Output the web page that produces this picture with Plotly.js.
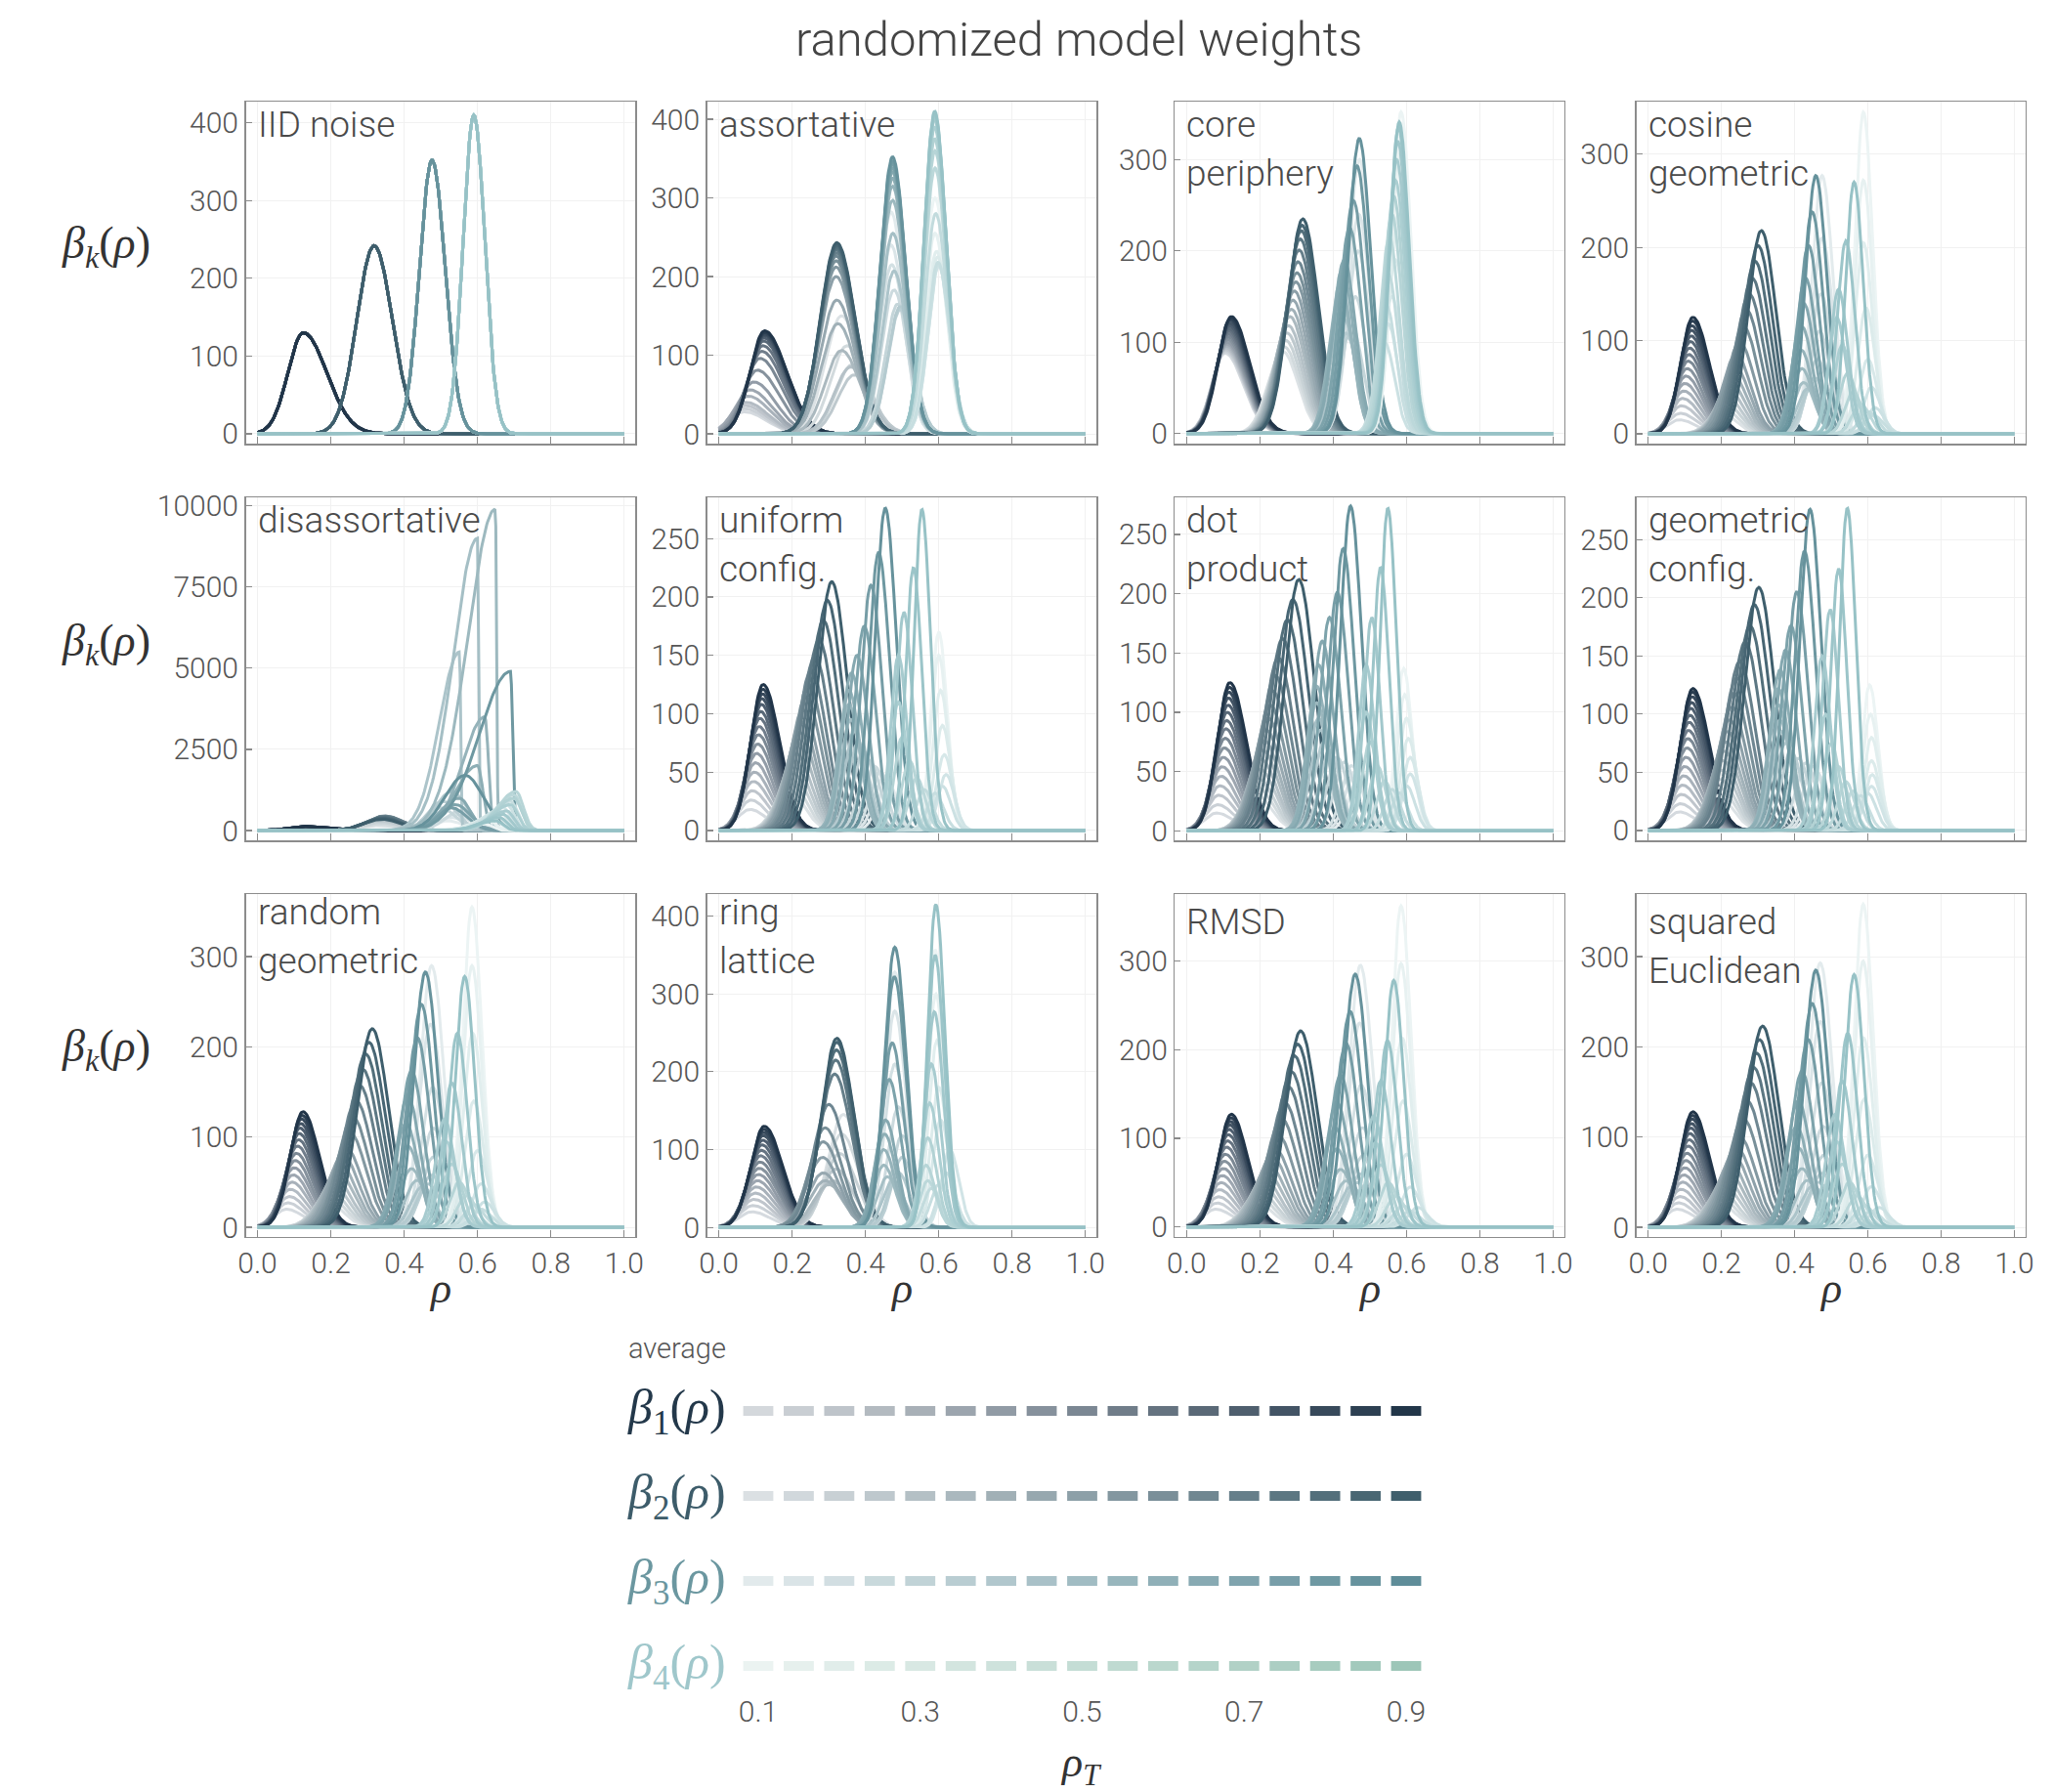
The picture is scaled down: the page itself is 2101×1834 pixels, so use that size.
<!DOCTYPE html>
<html><head><meta charset="utf-8">
<script src="https://cdn.plot.ly/plotly-3.0.1.min.js"></script>
<style>html,body{margin:0;padding:0;background:#fff}</style>
</head><body><div id="chart" style="width:2101px;height:1834px"></div>
<script>
// ---------------- data ----------------
const RHO_T = [0.1,0.15,0.2,0.25,0.3,0.35,0.4,0.45,0.5,0.55,0.6,0.65,0.7,0.75,0.8,0.85,0.9];
const LEGEND_TICKS = [0.1,0.3,0.5,0.7,0.9];
const X_TICKS = [0,0.2,0.4,0.6,0.8,1.0];
const PANEL_LABELS = [['IID noise'],['assortative'],['core','periphery'],['cosine','geometric'],
  ['disassortative'],['uniform','config.'],['dot','product'],['geometric','config.'],
  ['random','geometric'],['ring','lattice'],['RMSD'],['squared','Euclidean']];
const BETA_NAMES = ['1','2','3','4'];

// peak heights [beta1..beta4][rho_T 0.1..0.9]
const IID_H = [
 [130,130,130,130,130,130,130,130,130,130,130,130,130,130,130,130,130],
 [242,242,242,242,242,242,242,242,242,242,242,242,242,242,242,242,242],
 [352,352,352,352,352,352,352,352,352,352,352,352,352,352,352,352,352],
 [410,410,410,410,410,410,410,410,410,410,410,410,410,410,410,410,410]];
const IID_C = [
 [0.125,0.125,0.125,0.125,0.125,0.125,0.125,0.125,0.125,0.125,0.125,0.125,0.125,0.125,0.125,0.125,0.125],
 [0.318,0.318,0.318,0.318,0.318,0.318,0.318,0.318,0.318,0.318,0.318,0.318,0.318,0.318,0.318,0.318,0.318],
 [0.476,0.476,0.476,0.476,0.476,0.476,0.476,0.476,0.476,0.476,0.476,0.476,0.476,0.476,0.476,0.476,0.476],
 [0.59,0.59,0.59,0.59,0.59,0.59,0.59,0.59,0.59,0.59,0.59,0.59,0.59,0.59,0.59,0.59,0.59]];
const IID_W = [[0.042,0.064],[0.047,0.05],[0.034,0.036],[0.029,0.03]];

const ASSORT_H = [
 [28,32,36,40,48,56,66,81,96,105,112,118,122,125,127,129,131],
 [150,112,88,75,85,106,140,170,200,212,220,226,230,234,237,240,243],
 [282,240,215,183,165,158,162,207,255,297,315,325,333,338,343,347,352],
 [300,255,232,225,218,213,215,218,280,338,360,375,390,400,405,408,410]];
const ASSORT_C = [
 [0.07,0.07,0.072,0.075,0.08,0.085,0.095,0.105,0.112,0.117,0.12,0.122,0.123,0.124,0.125,0.125,0.125],
 [0.335,0.35,0.365,0.37,0.36,0.335,0.325,0.322,0.32,0.32,0.32,0.32,0.321,0.321,0.322,0.322,0.322],
 [0.47,0.47,0.472,0.478,0.488,0.495,0.495,0.478,0.475,0.474,0.474,0.474,0.474,0.474,0.474,0.474,0.474],
 [0.59,0.59,0.594,0.597,0.599,0.6,0.6,0.598,0.592,0.59,0.59,0.589,0.589,0.589,0.589,0.589,0.589]];
const ASSORT_W = [[0.04,0.06],[0.045,0.05],[0.034,0.036],[0.029,0.031]];

const CORE_H = [
 [88,90,92,94,96,98,100,103,106,109,112,115,118,121,124,126,128],
 [90,95,102,110,118,128,136,146,156,166,176,188,201,213,222,228,235],
 [300,240,200,150,118,105,110,125,140,150,165,180,190,225,255,293,323],
 [352,307,240,190,150,120,100,140,175,215,240,260,277,300,320,335,341]];
const CORE_C = [
 [0.105,0.106,0.107,0.108,0.109,0.11,0.111,0.112,0.113,0.114,0.115,0.116,0.117,0.118,0.119,0.12,0.122],
 [0.262,0.266,0.27,0.274,0.278,0.282,0.286,0.29,0.294,0.298,0.301,0.304,0.307,0.31,0.313,0.315,0.317],
 [0.472,0.47,0.468,0.46,0.45,0.44,0.435,0.43,0.425,0.422,0.42,0.425,0.43,0.445,0.455,0.465,0.471],
 [0.585,0.583,0.578,0.57,0.56,0.55,0.54,0.545,0.55,0.553,0.56,0.565,0.57,0.573,0.576,0.578,0.58]];
const CORE_W = [[0.036,0.05],[0.04,0.042],[0.03,0.031],[0.025,0.027]];

const COSINE_H = [
 [15,22,30,38,46,54,62,70,78,85,92,99,105,111,116,121,125],
 [22,28,34,40,47,55,64,74,85,98,115,133,150,167,185,202,218],
 [277,210,150,110,80,60,50,48,55,70,90,115,140,167,202,238,277],
 [345,272,205,135,80,50,28,20,24,32,45,65,95,125,155,207,270]];
const COSINE_C = [
 [0.085,0.088,0.091,0.094,0.097,0.1,0.103,0.106,0.109,0.111,0.113,0.115,0.117,0.118,0.119,0.121,0.122],
 [0.2,0.205,0.21,0.215,0.22,0.225,0.23,0.235,0.24,0.25,0.26,0.268,0.276,0.284,0.292,0.3,0.309],
 [0.475,0.475,0.472,0.468,0.462,0.455,0.445,0.435,0.425,0.42,0.418,0.42,0.425,0.43,0.438,0.448,0.458],
 [0.588,0.588,0.588,0.595,0.6,0.61,0.62,0.615,0.6,0.58,0.56,0.545,0.53,0.515,0.52,0.54,0.5625]];
const COSINE_W = [[0.033,0.045],[0.036,0.04],[0.028,0.03],[0.023,0.025]];

const DISASSORT_H = [
 [60,70,80,90,100,105,110,115,120,125,128,130,130,130,130,130,130],
 [150,200,250,300,330,360,380,400,420,430,440,450,440,420,400,380,350],
 [300,400,500,600,700,900,1200,5500,9000,9900,3500,2000,1000,800,700,4900,1700],
 [200,300,400,500,600,700,800,900,1000,1100,1200,1000,800,600,500,400,300]];
const DISASSORT_C = [
 [0.12,0.12,0.12,0.122,0.122,0.122,0.124,0.124,0.124,0.125,0.125,0.125,0.125,0.125,0.125,0.125,0.125],
 [0.33,0.332,0.334,0.336,0.338,0.34,0.342,0.344,0.346,0.348,0.348,0.348,0.348,0.346,0.344,0.342,0.34],
 [0.52,0.53,0.54,0.55,0.5,0.505,0.53,0.551,0.6,0.649,0.62,0.6,0.55,0.54,0.53,0.69,0.566],
 [0.62,0.63,0.64,0.65,0.66,0.67,0.68,0.69,0.7,0.7,0.705,0.7,0.69,0.68,0.67,0.66,0.65]];
const DISASSORT_B3_LEFT = [0.04,0.04,0.04,0.04,0.04,0.04,0.045,0.055,0.065,0.075,0.06,0.06,0.05,0.04,0.04,0.085,0.055];
const DISASSORT_B3_RIGHT = [0.04,0.04,0.04,0.04,0.04,0.04,0.04,0.003,0.003,0.003,0.01,0.015,0.03,0.04,0.04,0.006,0.05];
const DISASSORT_W = [[0.042,0.064],[0.05,0.05],[DISASSORT_B3_LEFT,DISASSORT_B3_RIGHT],[0.05,0.02]];

const UNIFORM_H = [
 [18,26,34,42,50,58,66,74,82,89,96,102,108,113,117,121,125],
 [35,42,50,58,66,75,84,93,103,114,125,137,149,163,180,197,213],
 [40,45,50,55,60,68,75,85,95,108,120,135,150,175,210,238,276],
 [170,150,120,90,65,48,38,32,35,45,60,80,110,150,187,225,275]];
const UNIFORM_C = [
 [0.085,0.088,0.091,0.094,0.097,0.1,0.103,0.106,0.108,0.11,0.112,0.114,0.116,0.117,0.119,0.12,0.121],
 [0.19,0.195,0.2,0.205,0.21,0.215,0.22,0.225,0.23,0.238,0.245,0.252,0.262,0.273,0.285,0.296,0.308],
 [0.46,0.45,0.44,0.425,0.41,0.395,0.38,0.37,0.36,0.355,0.355,0.362,0.377,0.397,0.415,0.436,0.454],
 [0.6,0.6,0.605,0.61,0.615,0.62,0.61,0.59,0.56,0.54,0.52,0.5,0.49,0.49,0.505,0.531,0.554]];
const UNIFORM_W = [[0.034,0.045],[0.038,0.042],[0.027,0.03],[0.021,0.023]];

const DOT_H = [
 [15,22,30,38,46,54,62,70,78,86,93,100,106,112,117,121,125],
 [30,37,44,52,60,68,76,85,95,106,118,131,146,162,178,195,212],
 [45,50,55,58,62,68,75,85,95,108,122,140,160,180,201,238,274],
 [137,115,95,78,62,48,38,32,35,42,55,75,100,140,180,222,272]];
const DOT_C = [
 [0.082,0.085,0.088,0.091,0.094,0.097,0.1,0.103,0.105,0.107,0.109,0.111,0.113,0.114,0.115,0.117,0.118],
 [0.19,0.193,0.196,0.2,0.204,0.208,0.212,0.217,0.222,0.228,0.235,0.242,0.25,0.262,0.275,0.29,0.306],
 [0.47,0.46,0.45,0.43,0.41,0.39,0.375,0.365,0.36,0.355,0.355,0.36,0.37,0.39,0.411,0.427,0.447],
 [0.592,0.595,0.6,0.605,0.61,0.61,0.6,0.58,0.56,0.54,0.52,0.5,0.49,0.49,0.505,0.529,0.549]];
const DOT_W = [[0.034,0.045],[0.038,0.042],[0.027,0.03],[0.021,0.023]];

const GEOCONF_H = [
 [16,23,31,39,47,55,63,71,79,86,93,99,105,110,115,119,122],
 [30,37,44,52,60,68,76,85,95,106,118,131,145,162,176,194,209],
 [45,50,55,58,62,68,75,85,95,108,122,138,155,176,205,240,276],
 [125,100,80,60,48,38,32,30,34,42,55,75,100,150,190,225,277]];
const GEOCONF_C = [
 [0.085,0.088,0.091,0.094,0.097,0.1,0.103,0.106,0.108,0.11,0.112,0.114,0.116,0.118,0.12,0.121,0.122],
 [0.19,0.193,0.196,0.2,0.204,0.208,0.212,0.217,0.222,0.228,0.235,0.242,0.25,0.265,0.278,0.29,0.302],
 [0.47,0.46,0.45,0.43,0.41,0.39,0.375,0.365,0.36,0.355,0.355,0.36,0.375,0.39,0.406,0.427,0.442],
 [0.605,0.607,0.61,0.61,0.612,0.61,0.6,0.58,0.56,0.54,0.52,0.5,0.485,0.475,0.497,0.52,0.544]];
const GEOCONF_W = [[0.034,0.045],[0.038,0.042],[0.027,0.03],[0.021,0.023]];

const RANDGEO_H = [
 [20,27,34,42,50,58,66,74,82,90,97,104,110,115,120,124,128],
 [28,34,40,47,54,62,70,79,88,105,122,140,157,175,192,205,220],
 [290,225,155,110,78,58,48,45,52,65,90,115,145,173,210,247,283],
 [355,290,215,140,85,48,28,20,25,35,50,70,95,120,160,215,278]];
const RANDGEO_C = [
 [0.08,0.083,0.087,0.09,0.094,0.097,0.1,0.103,0.106,0.109,0.112,0.114,0.116,0.118,0.12,0.122,0.124],
 [0.19,0.195,0.2,0.206,0.212,0.218,0.225,0.233,0.241,0.252,0.26,0.269,0.279,0.287,0.295,0.304,0.313],
 [0.475,0.472,0.478,0.48,0.48,0.475,0.465,0.45,0.435,0.42,0.41,0.405,0.41,0.42,0.436,0.447,0.458],
 [0.585,0.585,0.587,0.59,0.6,0.61,0.62,0.61,0.59,0.57,0.55,0.53,0.515,0.51,0.53,0.545,0.565]];
const RANDGEO_W = [[0.035,0.045],[0.041,0.044],[0.031,0.033],[0.025,0.027]];

const RING_H = [
 [20,28,36,44,52,60,68,76,84,92,99,106,112,118,122,126,130],
 [145,120,95,75,60,55,60,70,90,110,128,158,197,215,228,238,243],
 [328,278,210,155,118,90,70,60,65,80,100,120,138,190,237,322,360],
 [357,300,240,180,138,100,70,55,50,60,80,115,160,210,277,350,415]];
const RING_C = [
 [0.09,0.093,0.096,0.099,0.102,0.105,0.108,0.11,0.112,0.114,0.116,0.118,0.12,0.121,0.122,0.123,0.124],
 [0.34,0.335,0.33,0.32,0.31,0.3,0.29,0.285,0.283,0.285,0.29,0.3,0.316,0.319,0.321,0.322,0.322],
 [0.48,0.48,0.48,0.49,0.5,0.5,0.49,0.475,0.46,0.45,0.45,0.452,0.455,0.465,0.473,0.479,0.48],
 [0.59,0.592,0.595,0.6,0.605,0.63,0.62,0.6,0.58,0.57,0.565,0.57,0.575,0.58,0.588,0.59,0.592]];
const RING_W = [[0.037,0.05],[0.042,0.046],[0.028,0.031],[0.022,0.025]];

const RMSD_H = [
 [20,27,34,42,50,58,66,74,82,90,97,104,110,115,119,123,127],
 [28,34,40,47,54,62,70,79,88,103,122,140,158,175,193,206,221],
 [295,230,160,112,80,60,50,46,52,65,88,112,140,171,207,243,285],
 [362,297,213,142,82,45,22,18,24,35,50,70,95,125,165,210,278]];
const RMSD_C = [
 [0.08,0.083,0.087,0.09,0.094,0.097,0.1,0.103,0.106,0.109,0.112,0.114,0.116,0.118,0.119,0.121,0.122],
 [0.19,0.195,0.2,0.206,0.212,0.218,0.225,0.233,0.241,0.25,0.259,0.268,0.278,0.286,0.294,0.303,0.311],
 [0.474,0.472,0.476,0.48,0.48,0.475,0.465,0.45,0.435,0.42,0.41,0.405,0.41,0.42,0.435,0.446,0.46],
 [0.585,0.585,0.588,0.59,0.6,0.61,0.63,0.61,0.59,0.57,0.55,0.53,0.515,0.51,0.53,0.548,0.565]];
const RMSD_W = [[0.035,0.045],[0.041,0.044],[0.031,0.033],[0.025,0.027]];

const SQEUC_H = [
 [20,27,34,42,50,58,66,74,82,90,97,104,110,115,120,124,128],
 [28,34,40,47,54,62,70,79,88,100,120,140,160,177,193,208,223],
 [293,228,160,112,80,60,50,46,52,65,88,112,140,173,208,248,285],
 [358,295,210,142,80,45,22,18,24,35,50,70,95,125,162,215,280]];
const SQEUC_C = [
 [0.08,0.083,0.087,0.09,0.094,0.097,0.1,0.103,0.106,0.109,0.112,0.114,0.116,0.118,0.12,0.121,0.122],
 [0.19,0.195,0.2,0.206,0.212,0.218,0.225,0.233,0.241,0.25,0.26,0.27,0.28,0.288,0.296,0.304,0.3125],
 [0.47,0.47,0.474,0.478,0.48,0.475,0.465,0.45,0.435,0.42,0.41,0.405,0.41,0.42,0.437,0.448,0.458],
 [0.5875,0.587,0.588,0.59,0.6,0.61,0.63,0.61,0.59,0.57,0.55,0.53,0.515,0.51,0.53,0.545,0.5625]];
const SQEUC_W = [[0.035,0.045],[0.041,0.044],[0.031,0.033],[0.025,0.027]];

const Y_RANGES = [[-12.6,427],[-12.4,422],[-11,363],[-10.5,356],[-300,10250],[-8.4,285],[-8,281],[-8.4,286],[-10.5,369],[-12,428],[-11,375],[-10.5,369]];
const Y_DTICKS = [100,100,100,100,2500,50,50,50,100,100,100,100];

// ---------------- styling ----------------
const W = 2101, Hh = 1834;
const COL_L = [251.5, 723.6, 1202.3, 1674.7];
const COL_R = [650, 1122, 1600.8, 2072.6];
const ROW_T = [104.3, 509.3, 915.3];
const ROW_B = [454, 860, 1265.7];
const LABEL_BASE = [36,36,36,36,36,36,36,36,31,31,41,41];
const CURVE_LIGHT = ['#d5dadf','#dce2e5','#e3ebed','#ecf4f4'];
const CURVE_DARK  = ['#213549','#3e5e6c','#66929c','#97c2c6'];
const LEG_LIGHT = ['#d4d8dc','#dbe0e3','#e2eaec','#ebf3f1'];
const LEG_DARK  = ['#223649','#3f5f6c','#5f8d99','#9dc6b8'];
const LEG_LABEL = ['#23384a','#3d5c6a','#6b97a0','#9fc7cb'];
const SANS = 'Roboto, Lato, "Open Sans", sans-serif';
const SERIF = '"Liberation Serif", "DejaVu Serif", serif';

const PANELS = [
 [IID_H,IID_C,IID_W],[ASSORT_H,ASSORT_C,ASSORT_W],[CORE_H,CORE_C,CORE_W],[COSINE_H,COSINE_C,COSINE_W],
 [DISASSORT_H,DISASSORT_C,DISASSORT_W],[UNIFORM_H,UNIFORM_C,UNIFORM_W],[DOT_H,DOT_C,DOT_W],[GEOCONF_H,GEOCONF_C,GEOCONF_W],
 [RANDGEO_H,RANDGEO_C,RANDGEO_W],[RING_H,RING_C,RING_W],[RMSD_H,RMSD_C,RMSD_W],[SQEUC_H,SQEUC_C,SQEUC_W]];

function hex(h){return [parseInt(h.slice(1,3),16),parseInt(h.slice(3,5),16),parseInt(h.slice(5,7),16)];}
function mix(a,b,t){const A=hex(a),B=hex(b);return 'rgb('+A.map((v,k)=>Math.round(v+(B[k]-v)*t)).join(',')+')';}
const px = x => x/W, py = y => 1 - y/Hh;

const GRID = [];
for (let k=0;k<=400;k++) GRID.push(k/400);
function bump(h,c,sl,sr){
  return GRID.map(x=>{const s = x<c?sl:sr; const v=h*Math.exp(-(x-c)*(x-c)/(2*s*s)); return v<1e-4*h?0:v;});
}

const traces = [];
const layout = {
  width: W, height: Hh, margin:{l:0,r:0,t:0,b:0},
  paper_bgcolor:'#ffffff', plot_bgcolor:'#ffffff', showlegend:false,
  annotations: []
};
const tickfont = {family:SANS, size:30, color:'#555555', weight:300};

PANELS.forEach((P,p)=>{
  const r = Math.floor(p/4), c = p%4, n = p+1, sfx = n===1?'':String(n);
  const [Hs,Cs,Ws] = P;
  for (let g=0; g<4; g++){
    for (let i=0;i<RHO_T.length;i++){
      const sl = Array.isArray(Ws[g][0]) ? Ws[g][0][i] : Ws[g][0];
      const sr = Array.isArray(Ws[g][1]) ? Ws[g][1][i] : Ws[g][1];
      traces.push({type:'scatter', mode:'lines', x:GRID, y:bump(Hs[g][i],Cs[g][i],sl,sr),
        xaxis:'x'+sfx, yaxis:'y'+sfx, hoverinfo:'skip',
        line:{color:mix(CURVE_LIGHT[g],CURVE_DARK[g],i/(RHO_T.length-1)), width:3}});
    }
  }
  layout['xaxis'+sfx] = {domain:[px(COL_L[c]),px(COL_R[c])], anchor:'y'+sfx, range:[-0.032,1.03],
    tickvals:X_TICKS, tickformat:'.1f', showticklabels: r===2, ticks:'inside', ticklen:7, tickwidth:1.2, tickcolor:'#8a8a8a',
    showline:true, mirror:true, linecolor:'#8c8c8c', linewidth:1.5, showgrid:true, gridcolor:'#f1f1f1', gridwidth:1,
    zeroline:false, tickfont:tickfont, fixedrange:true};
  layout['yaxis'+sfx] = {domain:[py(ROW_B[r]),py(ROW_T[r])], anchor:'x'+sfx, range:Y_RANGES[p],
    tick0:0, dtick:Y_DTICKS[p], tickformat:'d', ticks:'inside', ticklen:6, tickwidth:1.2, tickcolor:'#8a8a8a',
    showline:true, mirror:true, linecolor:'#8c8c8c', linewidth:1.5, showgrid:true, gridcolor:'#f1f1f1', gridwidth:1,
    zeroline:false, tickfont:tickfont, fixedrange:true};
  PANEL_LABELS[p].forEach((t,li)=>{
    layout.annotations.push({xref:'paper', yref:'paper', x:px(COL_L[c]+10), y:py(ROW_T[r]+LABEL_BASE[p]-13+li*50),
      xanchor:'left', yanchor:'middle', showarrow:false, text:t,
      font:{family:SANS, size:37, color:'#4a4a4a', weight:300}});
  });
});

// row y-labels and column x-labels
[252,659,1074].forEach(y=>layout.annotations.push({xref:'paper',yref:'paper',x:px(108),y:py(y),xanchor:'center',yanchor:'middle',showarrow:false,
  text:'<i>β</i><sub><i>k</i></sub>(<i>ρ</i>)', font:{family:SERIF,size:46,color:'#333333'}}));
COL_L.forEach((L,c)=>layout.annotations.push({xref:'paper',yref:'paper',x:px((L+COL_R[c])/2),y:py(1318),xanchor:'center',yanchor:'middle',showarrow:false,
  text:'<i>ρ</i>', font:{family:SERIF,size:44,color:'#333333'}}));

// title
layout.annotations.push({xref:'paper',yref:'paper',x:px(1104),y:py(40),xanchor:'center',yanchor:'middle',showarrow:false,
  text:'randomized model weights', font:{family:SANS,size:49,color:'#444444',weight:300}});

// ---------------- legend (ρ_T colour key) ----------------
const LEG_PX_PER = (1439-776)/0.8;
const LX0 = 776 - 0.05*LEG_PX_PER, LX1 = 776 + 0.85*LEG_PX_PER;
const ROW_GAP = 87;
const LY_TOP = 1444 - 0.5*ROW_GAP, LY_BOT = 1705 + 0.3*ROW_GAP;
layout.xaxis13 = {domain:[px(LX0),px(LX1)], anchor:'y13', range:[0.05,0.95], tickvals:LEGEND_TICKS, tickformat:'.1f',
  showline:false, showgrid:false, zeroline:false, ticks:'', tickfont:tickfont, fixedrange:true};
layout.yaxis13 = {domain:[py(LY_BOT),py(LY_TOP)], anchor:'x13', range:[0.7,4.5], visible:false, fixedrange:true};
for (let g=0; g<4; g++){
  traces.push({type:'scatter', mode:'markers', x:RHO_T, y:RHO_T.map(()=>4-g), xaxis:'x13', yaxis:'y13', hoverinfo:'skip',
    marker:{symbol:'line-ew', size:22, line:{width:10, color:RHO_T.map((_,i)=>mix(LEG_LIGHT[g],LEG_DARK[g],i/(RHO_T.length-1)))}}});
  layout.annotations.push({xref:'paper', yref:'y13', x:px(640), y:4-g, xanchor:'left', yanchor:'middle', showarrow:false,
    text:'<i>β</i><sub>'+BETA_NAMES[g]+'</sub>(<i>ρ</i>)', font:{family:SERIF,size:50,color:LEG_LABEL[g]}});
}
layout.annotations.push({xref:'paper',yref:'paper',x:px(641),y:py(1380),xanchor:'left',yanchor:'middle',showarrow:false,
  text:'average', font:{family:SANS,size:29,color:'#555555',weight:300}});
layout.annotations.push({xref:'paper',yref:'paper',x:px(1106),y:py(1806),xanchor:'center',yanchor:'middle',showarrow:false,
  text:'<i>ρ</i><sub><i>T</i></sub>', font:{family:SERIF,size:44,color:'#333333'}});

Plotly.newPlot('chart', traces, layout, {staticPlot:true, displayModeBar:false});
</script>
</body></html>
